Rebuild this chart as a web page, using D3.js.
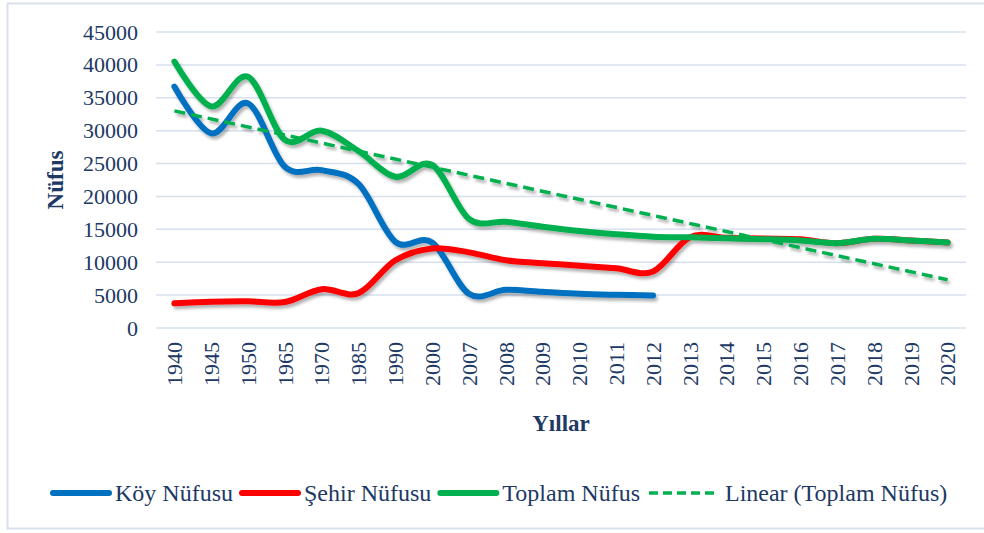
<!DOCTYPE html>
<html>
<head>
<meta charset="utf-8">
<script src="https://cdn.jsdelivr.net/npm/d3@7"></script>
<style>
  body { margin: 0; background: #fff; }
  svg text { font-family: "Liberation Serif", "Times New Roman", "DejaVu Serif", serif; fill: #203864; }
</style>
</head>
<body>
<div id="chart"></div>
<script>
"use strict"

const WIDTH = 984;
const HEIGHT = 533;
const PLOT_LEFT = 156;
const PLOT_RIGHT = 966;
const PLOT_TOP = 32;
const PLOT_BOTTOM = 328;
const FONT = "'Liberation Serif', 'Times New Roman', 'DejaVu Serif', serif";

// data
const years = ["1940","1945","1950","1965","1970","1985","1990","2000","2007","2008","2009",
  "2010","2011","2012","2013","2014","2015","2016","2017","2018","2019","2020"];
const koyNufusu = [36700, 29600, 34150, 24500, 24000, 21900, 13100, 13000, 5200, 5800, 5500,
  5200, 5050, 4950, null, null, null, null, null, null, null, null];
const sehirNufusu = [3750, 4000, 4050, 3950, 5900, 5300, 10300, 12100, 11500, 10300, 9850,
  9480, 9070, 8600, 13800, 13700, 13600, 13500, 12900, 13550, 13300, 13000];
const toplamNufus = [40500, 33700, 38200, 28600, 30000, 26900, 23000, 24800, 16600, 16150, 15400,
  14750, 14250, 13880, 13780, 13630, 13500, 13300, 12900, 13550, 13300, 13000];
const yTicks = [0, 5000, 10000, 15000, 20000, 25000, 30000, 35000, 40000, 45000];

const series = [
  { name: "Köy Nüfusu", values: koyNufusu, color: "#0070C0" },
  { name: "Şehir Nüfusu", values: sehirNufusu, color: "#FF0000" },
  { name: "Toplam Nüfus", values: toplamNufus, color: "#00B050" }
];

var svg = d3.select("#chart").append("svg")
  .attr("width", WIDTH)
  .attr("height", HEIGHT)
  .attr("font-family", FONT);

var defs = svg.append("defs");
defs.append("filter")
  .attr("id", "shadow")
  .attr("x", "-5%").attr("y", "-20%").attr("width", "110%").attr("height", "140%")
  .append("feDropShadow")
  .attr("dx", 2).attr("dy", 3)
  .attr("stdDeviation", 1.8)
  .attr("flood-color", "#000")
  .attr("flood-opacity", 0.3);

// outer border
svg.append("rect")
  .attr("x", 7.5).attr("y", 3.5)
  .attr("width", 990).attr("height", 525)
  .attr("fill", "none")
  .attr("stroke", "#D9E1EE")
  .attr("stroke-width", 2);

var x = d3.scalePoint()
  .domain(years)
  .range([PLOT_LEFT, PLOT_RIGHT])
  .padding(0.5);

var y = d3.scaleLinear()
  .domain([0, 45000])
  .range([PLOT_BOTTOM, PLOT_TOP]);

// gridlines
svg.append("g")
  .selectAll("line")
  .data(yTicks)
  .enter()
    .append("line")
    .attr("x1", PLOT_LEFT)
    .attr("x2", PLOT_RIGHT)
    .attr("y1", function(d) { return y(d); })
    .attr("y2", function(d) { return y(d); })
    .attr("stroke", "#D6E0EF")
    .attr("stroke-width", 1.5);

// y axis
var yAxis = svg.append("g")
  .attr("transform", "translate(" + (PLOT_LEFT - 18) + ",0)")
  .call(d3.axisLeft(y).tickValues(yTicks).tickSize(0).tickPadding(0).tickFormat(d3.format("d")));
yAxis.attr("font-family", FONT).attr("font-size", 22);
yAxis.select(".domain").remove();
yAxis.selectAll("text")
  .attr("fill", "#203864");

// x axis
var xAxis = svg.append("g")
  .attr("transform", "translate(0," + PLOT_BOTTOM + ")")
  .call(d3.axisBottom(x).tickSize(0).tickPadding(0));
xAxis.attr("font-family", FONT).attr("font-size", 22);
xAxis.select(".domain").remove();
xAxis.selectAll("text")
  .attr("fill", "#203864")
  .attr("text-anchor", "end")
  .attr("transform", "rotate(-90)")
  .attr("x", -14)
  .attr("y", 0)
  .attr("dy", "0.33em");

// axis titles
svg.append("text")
  .attr("transform", "translate(63,180) rotate(-90)")
  .attr("text-anchor", "middle")
  .style("font-size", "23px")
  .style("font-weight", "bold")
  .text("Nüfus");

svg.append("text")
  .attr("x", 561)
  .attr("y", 431)
  .attr("text-anchor", "middle")
  .style("font-size", "23px")
  .style("font-weight", "bold")
  .text("Yıllar");

// series lines
var line = d3.line()
  .defined(function(d) { return d != null; })
  .x(function(d, i) { return x(years[i]); })
  .y(function(d) { return y(d); })
  .curve(d3.curveCardinal.tension(0));

var lines = svg.append("g").attr("filter", "url(#shadow)");

series.forEach(function(s) {
  lines.append("path")
    .attr("d", line(s.values))
    .attr("fill", "none")
    .attr("stroke", s.color)
    .attr("stroke-width", 6)
    .attr("stroke-linecap", "round")
    .attr("stroke-linejoin", "round");
});

// linear trend of Toplam Nüfus (least squares over category index)
var n = toplamNufus.length;
var meanI = (n - 1) / 2;
var meanV = d3.mean(toplamNufus);
var sxy = d3.sum(toplamNufus, function(v, i) { return (i - meanI) * (v - meanV); });
var sxx = d3.sum(toplamNufus, function(v, i) { return (i - meanI) * (i - meanI); });
var slope = sxy / sxx;
var intercept = meanV - slope * meanI;
var trend = [intercept, intercept + slope * (n - 1)];

lines.append("line")
  .attr("x1", x(years[0]))
  .attr("y1", y(trend[0]))
  .attr("x2", x(years[n - 1]))
  .attr("y2", y(trend[1]))
  .attr("stroke", "#00B050")
  .attr("stroke-width", 3.5)
  .attr("stroke-dasharray", "11,6");

// legend
var legendItems = series.map(function(s) { return { name: s.name, color: s.color, dash: null, len: 56 }; });
legendItems.push({ name: "Linear (Toplam Nüfus)", color: "#00B050", dash: "9,5", len: 70 });

var legend = svg.append("g");
var lx = 53;
legendItems.forEach(function(d) {
  var g = legend.append("g");
  g.append("line")
    .attr("x1", lx)
    .attr("x2", lx + d.len)
    .attr("y1", 493)
    .attr("y2", 493)
    .attr("stroke", d.color)
    .attr("stroke-width", d.dash ? 3.5 : 6)
    .attr("stroke-linecap", d.dash ? "butt" : "round")
    .attr("stroke-dasharray", d.dash);
  var t = g.append("text")
    .attr("x", lx + d.len + 6)
    .attr("y", 501)
    .style("font-size", "24px")
    .text(d.name);
  lx = lx + d.len + 6 + t.node().getComputedTextLength() + 9;
});
</script>
</body>
</html>
